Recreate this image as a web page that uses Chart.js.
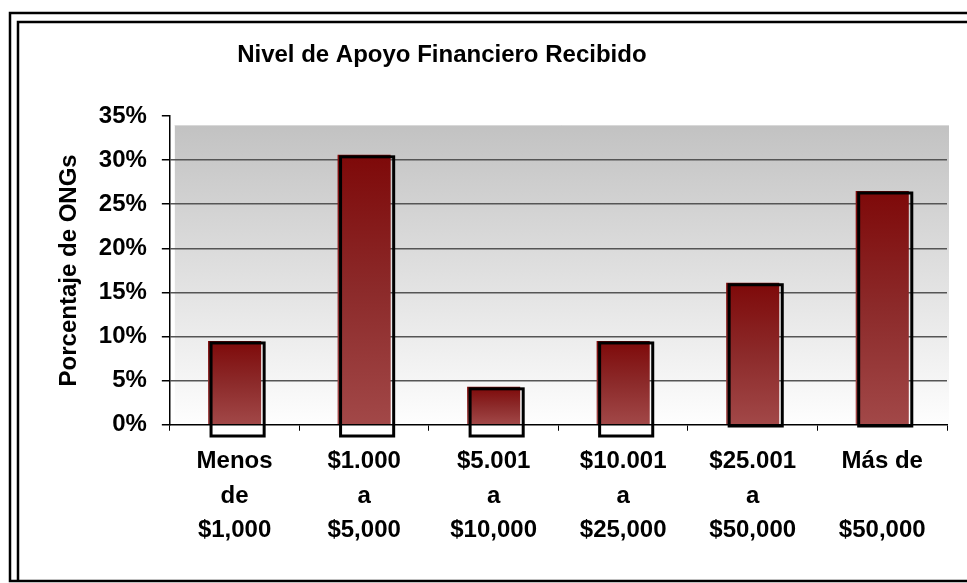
<!DOCTYPE html>
<html>
<head>
<meta charset="utf-8">
<script src="https://cdn.jsdelivr.net/npm/chart.js@4"></script>
<style>
  body { margin: 0; background: #fff; }
  #wrap { width: 967px; height: 583px; }
</style>
</head>
<body>
<div id="wrap"><canvas id="chart" width="967" height="583"></canvas></div>
<script>
const categories = [
  ['Menos', 'de', '$1,000'],
  ['$1.000', 'a', '$5,000'],
  ['$5.001', 'a', '$10,000'],
  ['$10.001', 'a', '$25,000'],
  ['$25.001', 'a', '$50,000'],
  ['Más de', '', '$50,000']
];
const pctOngs = [9.5, 30.6, 4.3, 9.5, 16.1, 26.5];
const chartTitle = 'Nivel de Apoyo Financiero Recibido';
const yAxisTitle = 'Porcentaje de ONGs';

const FONT = "'Liberation Sans', Arial, sans-serif";

// frame, plot wall and title
const framePlugin = {
  id: 'frame',
  beforeDraw(chart) {
    const ctx = chart.ctx;
    const a = chart.chartArea;
    ctx.save();
    ctx.fillStyle = '#fff';
    ctx.fillRect(0, 0, chart.width, chart.height);

    // double border
    ctx.strokeStyle = '#000';
    ctx.lineWidth = 2.5;
    ctx.beginPath();
    ctx.moveTo(chart.width + 5, 13);
    ctx.lineTo(10, 13);
    ctx.lineTo(10, 581);
    ctx.lineTo(chart.width + 5, 581);
    ctx.moveTo(chart.width + 5, 22);
    ctx.lineTo(18, 22);
    ctx.lineTo(18, 581);
    ctx.stroke();

    // gray gradient wall
    const top = a.top + 9;
    const g = ctx.createLinearGradient(0, top, 0, a.bottom);
    g.addColorStop(0, '#c2c2c2');
    g.addColorStop(1, '#fefefe');
    ctx.fillStyle = g;
    ctx.fillRect(a.left + 5, top, a.right + 2 - (a.left + 5), a.bottom - top);
    ctx.strokeStyle = '#d8d8d8';
    ctx.lineWidth = 1;
    ctx.beginPath();
    ctx.moveTo(a.left + 5, top + 0.5);
    ctx.lineTo(a.right + 2, top + 0.5);
    ctx.stroke();

    // title
    ctx.fillStyle = '#000';
    ctx.font = 'bold 24px ' + FONT;
    ctx.textAlign = 'center';
    ctx.textBaseline = 'middle';
    ctx.fillText(chartTitle, a.left + a.width * 0.35, 55);
    ctx.restore();
  },
  afterDatasetsDraw(chart) {
    // offset black outline of each bar
    const ctx = chart.ctx;
    const meta = chart.getDatasetMeta(0);
    ctx.save();
    ctx.strokeStyle = '#000';
    ctx.lineWidth = 3;
    meta.data.forEach((bar, i) => {
      const w = bar.width;
      const drop = i < 4 ? 10 : 0;
      ctx.strokeRect(bar.x - w / 2 + 3, bar.y + 2, w, bar.base - bar.y + drop);
    });
    ctx.restore();
  }
};

new Chart(document.getElementById('chart'), {
  type: 'bar',
  data: {
    labels: categories,
    datasets: [{
      label: yAxisTitle,
      data: pctOngs,
      borderWidth: 0,
      categoryPercentage: 1,
      barPercentage: 0.41,
      backgroundColor: (c) => {
        const y = c.chart.scales.y;
        if (!y || typeof c.raw !== 'number') return '#8a2222';
        const y0 = y.getPixelForValue(c.raw);
        const y1 = y.getPixelForValue(0);
        if (!Number.isFinite(y0) || !Number.isFinite(y1) || y0 === y1) return '#8a2222';
        const g = c.chart.ctx.createLinearGradient(0, y0, 0, y1);
        g.addColorStop(0, '#7e0909');
        g.addColorStop(0.5, '#8c2a2a');
        g.addColorStop(1, '#a24848');
        return g;
      }
    }]
  },
  options: {
    responsive: false,
    animation: false,
    layout: { padding: { left: 55, right: 20, top: 116, bottom: 22 } },
    plugins: {
      legend: { display: false },
      tooltip: { enabled: false },
      title: { display: false }
    },
    scales: {
      x: {
        grid: { drawOnChartArea: false, tickLength: 6, color: '#000', lineWidth: 1 },
        border: { color: '#000', width: 1.5 },
        ticks: {
          color: '#000',
          padding: 14,
          maxRotation: 0,
          font: { family: FONT, size: 24, weight: 'bold', lineHeight: 1.42 }
        }
      },
      y: {
        min: 0,
        max: 35,
        grid: {
          tickLength: 8,
          tickColor: '#000',
          lineWidth: 1.5,
          color: (c) => (c.tick && (c.tick.value === 0 || c.tick.value === 35)) ? 'rgba(0,0,0,0)' : '#555'
        },
        border: { color: '#000', width: 1.5 },
        ticks: {
          stepSize: 5,
          color: '#000',
          padding: 15,
          font: { family: FONT, size: 24, weight: 'bold' },
          callback: (v) => v + '%'
        },
        title: {
          display: true,
          text: yAxisTitle,
          color: '#000',
          padding: 0,
          font: { family: FONT, size: 24, weight: 'bold' }
        }
      }
    }
  },
  plugins: [framePlugin]
});
</script>
</body>
</html>
